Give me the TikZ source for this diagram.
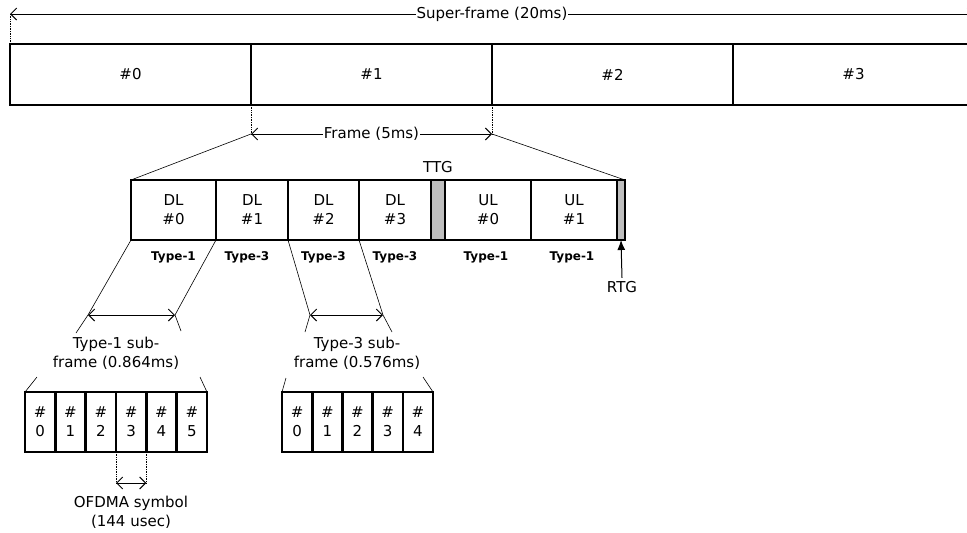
\documentclass[tikz,border=0pt]{standalone}
\usepackage{fontspec}
\setmainfont{DejaVu Sans}
\usetikzlibrary{arrows.meta,positioning,calc}
\definecolor{gapgray}{HTML}{BEBEBE}
\tikzset{
  box/.style={draw,line width=2.6pt,inner sep=0pt,outer sep=0pt,align=center},
  gapbox/.style={box,fill=gapgray,minimum height=60,inner sep=0pt},
  dim/.style={line width=1pt,{Straight Barb[length=6pt,width=12pt]}-{Straight Barb[length=6pt,width=12pt]}},
  guide/.style={densely dotted,line width=0.7pt},
  zoomline/.style={line width=0.6pt},
  typelbl/.style={font=\bfseries\fontsize{12}{14}\selectfont},
  onarrow/.style={fill=white,inner sep=1pt}
}
\begin{document}
\begin{tikzpicture}[x=1pt,y=-1pt,font=\fontsize{15}{19}\selectfont]
\clip (0,0) rectangle (967,533);

\node[box,minimum width=241,minimum height=61] (sf0) at (130.5,74.5) {\#0};
\node[box,minimum width=241,minimum height=61] (sf1) at (371.5,74.5) {\#1};
\node[box,minimum width=241,minimum height=61] (sf2) at (612.5,74.5) {\#2};
\node[box,minimum width=241,minimum height=61] (sf3) at (853.5,74.5) {\#3};

\coordinate (sfl) at (10,14);
\coordinate (sfr) at (974,14);
\draw[dim] (sfl) -- node[onarrow] (sflbl) {Super-frame (20ms)} (sfr);
\draw[guide] (sfl) -- (sf0.north west);

\coordinate (fl) at (251,134);
\coordinate (fr) at (492,134);
\draw[guide] (sf1.south west) -- (fl);
\draw[guide] (sf1.south east) -- (fr);
\draw[dim] (fl) -- node[onarrow] (flbl) {Frame (5ms)} (fr);

\node[box,minimum width=85,minimum height=60] (dl0) at (173.5,210) {DL\\\#0};
\node[box,minimum width=72,minimum height=60] (dl1) at (252,210) {DL\\\#1};
\node[box,minimum width=71,minimum height=60] (dl2) at (323.5,210) {DL\\\#2};
\node[box,minimum width=72,minimum height=60] (dl3) at (395,210) {DL\\\#3};
\node[gapbox,minimum width=14] (ttg) at (438,210) {};
\node[box,minimum width=86,minimum height=60] (ul0) at (488,210) {UL\\\#0};
\node[box,minimum width=86,minimum height=60] (ul1) at (574,210) {UL\\\#1};
\node[gapbox,minimum width=8] (rtg) at (621,210) {};

\draw[zoomline] (fl) -- (dl0.north west);
\draw[zoomline] (fr) -- (rtg.north east);

\node (ttglbl) at (438,167) {TTG};
\node (rtglbl) at (622,287) {RTG};
\draw[line width=1pt,-{Latex[length=10pt,width=8pt]}] (rtglbl.north) -- (rtg.south);

\node[typelbl] (ty0) at (173.5,257) {Type-1};
\node[typelbl] (ty1) at (247,257) {Type-3};
\node[typelbl] (ty2) at (323.5,257) {Type-3};
\node[typelbl] (ty3) at (395,257) {Type-3};
\node[typelbl] (ty4) at (486,257) {Type-1};
\node[typelbl] (ty5) at (572,257) {Type-1};

\coordinate (a1l) at (88,315);
\coordinate (a1r) at (175,315);
\coordinate (e1l) at (76,333);
\coordinate (e1r) at (181,331);
\draw[zoomline] (dl0.south west) -- (a1l) -- (e1l);
\draw[zoomline] (dl0.south east) -- (a1r) -- (e1r);
\draw[dim] (a1l) -- (a1r);
\node[align=center] (sub1) at (116,353) {Type-1 sub-\\frame (0.864ms)};

\coordinate (a3l) at (310,315);
\coordinate (a3r) at (383,315);
\coordinate (e3l) at (305,332);
\coordinate (e3r) at (392,332);
\draw[zoomline] (dl2.south west) -- (a3l) -- (e3l);
\draw[zoomline] (dl3.south west) -- (a3r) -- (e3r);
\draw[dim] (a3l) -- (a3r);
\node[align=center] (sub3) at (357,353) {Type-3 sub-\\frame (0.576ms)};

\node[box,minimum width=30.33,minimum height=60] (p0) at (40.2,422) {\#\\0};
\node[box,minimum width=30.33,minimum height=60] (p1) at (70.5,422) {\#\\1};
\node[box,minimum width=30.33,minimum height=60] (p2) at (100.8,422) {\#\\2};
\node[box,minimum width=30.33,minimum height=60] (p3) at (131.2,422) {\#\\3};
\node[box,minimum width=30.33,minimum height=60] (p4) at (161.5,422) {\#\\4};
\node[box,minimum width=30.33,minimum height=60] (p5) at (191.8,422) {\#\\5};

\coordinate (s1l) at (37,377);
\coordinate (s1r) at (200,377);
\draw[zoomline] (s1l) -- (p0.north west);
\draw[zoomline] (s1r) -- (p5.north east);

\node[box,minimum width=30.2,minimum height=60] (q0) at (297.1,422) {\#\\0};
\node[box,minimum width=30.2,minimum height=60] (q1) at (327.3,422) {\#\\1};
\node[box,minimum width=30.2,minimum height=60] (q2) at (357.5,422) {\#\\2};
\node[box,minimum width=30.2,minimum height=60] (q3) at (387.7,422) {\#\\3};
\node[box,minimum width=30.2,minimum height=60] (q4) at (417.9,422) {\#\\4};

\coordinate (s3l) at (286,378);
\coordinate (s3r) at (423,377);
\draw[zoomline] (s3l) -- (q0.north west);
\draw[zoomline] (s3r) -- (q4.north east);

\coordinate (ol) at ($(p3.south west)+(0,31)$);
\coordinate (or) at ($(p3.south east)+(0,31)$);
\draw[guide] (p3.south west) -- (ol);
\draw[guide] (p3.south east) -- (or);
\draw[dim] (ol) -- (or);
\node[align=center] (ofdma) at (131,512) {OFDMA symbol\\(144 usec)};
\end{tikzpicture}
\end{document}
